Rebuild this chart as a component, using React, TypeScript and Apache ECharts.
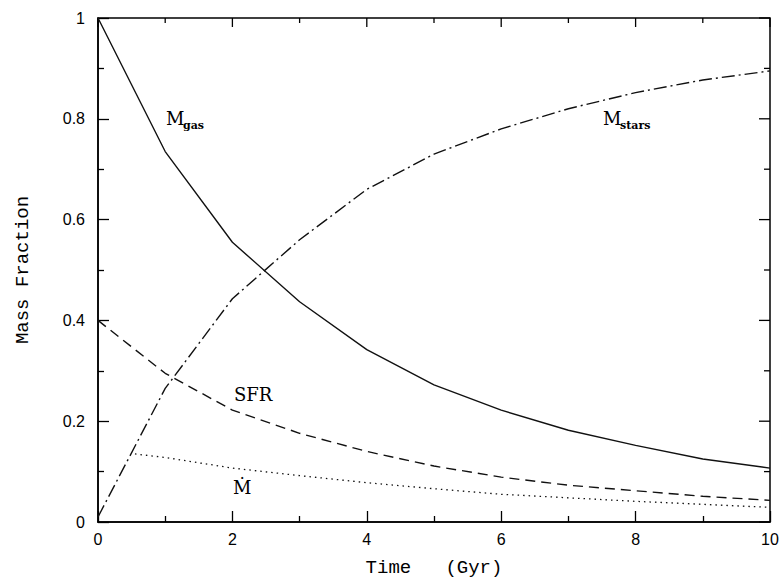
import React, { useEffect, useRef } from "react";
import * as echarts from "echarts";

const time = [0, 1, 2, 3, 4, 5, 6, 7, 8, 9, 10];
const mGas = [1.0, 0.735, 0.555, 0.437, 0.342, 0.272, 0.222, 0.182, 0.152, 0.125, 0.107];
const mStars = [0.01, 0.265, 0.443, 0.56, 0.66, 0.73, 0.78, 0.82, 0.852, 0.877, 0.895];
const sfr = [0.4, 0.295, 0.222, 0.176, 0.14, 0.111, 0.089, 0.073, 0.062, 0.051, 0.043];
const mdotTime = [0.55, 1, 2, 3, 4, 5, 6, 7, 8, 9, 10];
const mdot = [0.135, 0.128, 0.107, 0.092, 0.078, 0.066, 0.055, 0.048, 0.041, 0.035, 0.029];
// tick positions for the top and right frame edges
const topTicks = [0, 1, 2, 3, 4, 5, 6, 7, 8, 9, 10];
const rightTicks = [0, 0.1, 0.2, 0.3, 0.4, 0.5, 0.6, 0.7, 0.8, 0.9, 1.0];

const pairs = (xs: number[], ys: number[]) => xs.map((x, i) => [x, ys[i]]);

export default function App() {
  const ref = useRef<HTMLDivElement>(null);
  useEffect(() => {
    if (!ref.current) return;
    const chart = echarts.init(ref.current, null, { renderer: "svg" });
    const axisLine = () => ({ show: true, onZero: false, lineStyle: { color: "#000", width: 1.5 } });
    const tick = () => ({ show: true, inside: true, length: 11, lineStyle: { color: "#000", width: 1.3 } });
    const minor = () => ({ show: true, splitNumber: 2, length: 6, lineStyle: { color: "#000", width: 1.3 } });
    const lbl = () => ({ color: "#000", fontFamily: "Liberation Sans", fontSize: 16 });
    const serif = "DejaVu Serif";
    const lineCol = "#111";
    const frameData = [
      ...topTicks.map((v) => [v, 0]),
      ...rightTicks.map((v) => [v, 1]),
    ];
    chart.setOption({
      animation: false,
      backgroundColor: "#fff",
      grid: {
        left: 98, right: 13, top: 18, bottom: 60, containLabel: false,
        show: true, borderColor: "#000", borderWidth: 1.5, backgroundColor: "transparent",
      },
      xAxis: {
        type: "value", min: 0, max: 10, interval: 2,
        axisLine: axisLine(), axisTick: tick(), minorTick: minor(), splitLine: { show: false },
        axisLabel: { ...lbl(), margin: 9 },
        name: "Time   (Gyr)", nameLocation: "middle", nameGap: 36,
        nameTextStyle: { color: "#000", fontFamily: "Liberation Mono", fontSize: 19 },
      },
      yAxis: {
        type: "value", min: 0, max: 1, interval: 0.2,
        axisLine: axisLine(), axisTick: tick(), minorTick: minor(), splitLine: { show: false },
        axisLabel: { ...lbl(), margin: 13 },
        name: "Mass Fraction", nameLocation: "middle", nameGap: 66,
        nameTextStyle: { color: "#000", fontFamily: "Liberation Mono", fontSize: 19 },
      },
      series: [
        {
          name: "Mgas", type: "line", data: pairs(time, mGas), showSymbol: false,
          lineStyle: { color: lineCol, width: 1.4, type: "solid" },
        },
        {
          name: "Mstars", type: "line", data: pairs(time, mStars), showSymbol: false,
          lineStyle: { color: lineCol, width: 1.4, type: [13, 4, 2, 4] },
        },
        {
          name: "SFR", type: "line", data: pairs(time, sfr), showSymbol: false,
          lineStyle: { color: lineCol, width: 1.4, type: [10, 6] },
        },
        {
          name: "Mdot", type: "line", data: pairs(mdotTime, mdot), showSymbol: false,
          lineStyle: { color: lineCol, width: 1.3, type: [1.5, 4] },
        },
        {
          name: "frameTicks", type: "custom", silent: true, clip: false,
          data: frameData,
          renderItem: (params: any, api: any) => {
            const v = api.value(0);
            const kind = api.value(1);
            if (kind === 0) {
              const p = api.coord([v, 1]);
              const major = Math.round(v) % 2 === 0;
              const len = major ? 9 : 5;
              return {
                type: "line",
                shape: { x1: p[0], y1: p[1], x2: p[0], y2: p[1] + len },
                style: { stroke: "#000", lineWidth: 1.3 },
              };
            }
            const p = api.coord([10, v]);
            const major = Math.round(v * 10) % 2 === 0;
            const len = major ? 11 : 6;
            return {
              type: "line",
              shape: { x1: p[0], y1: p[1], x2: p[0] - len, y2: p[1] },
              style: { stroke: "#000", lineWidth: 1.3 },
            };
          },
        },
      ],
      graphic: [
        { type: "text", left: 166, top: 109, style: { text: "M", font: `18px '${serif}'`, fill: "#000" } },
        { type: "text", left: 183, top: 120, style: { text: "gas", font: `bold 11px '${serif}'`, fill: "#000" } },
        { type: "text", left: 603, top: 109, style: { text: "M", font: `18px '${serif}'`, fill: "#000" } },
        { type: "text", left: 620, top: 120, style: { text: "stars", font: `bold 11px '${serif}'`, fill: "#000" } },
        { type: "text", left: 234, top: 385, style: { text: "SFR", font: `18px '${serif}'`, fill: "#000" } },
        { type: "text", left: 233, top: 478, style: { text: "\u1E40", font: `18px '${serif}'`, fill: "#000" } },
      ],
    });
    return () => chart.dispose();
  }, []);
  return (
    <div
      ref={ref}
      style={{ position: "fixed", left: 0, top: 0, width: 783, height: 582, background: "#fff" }}
    />
  );
}
